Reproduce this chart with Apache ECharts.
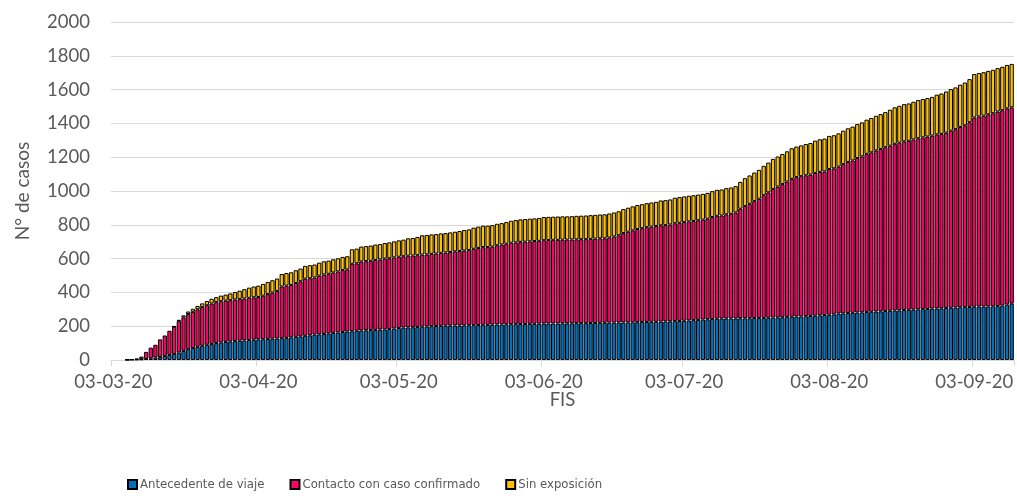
<!DOCTYPE html>
<html><head><meta charset="utf-8">
<script src="https://cdn.jsdelivr.net/npm/echarts@6/dist/echarts.min.js"></script>
<style>html,body{margin:0;padding:0;background:#fff}#c{width:1017px;height:502px}</style>
</head><body><div id="c"></div>
<script>
// Categories: daily dates (DD-MM-YY) from 03-03-20, 193 days
const firstDay = [2020, 2, 3]; // year, month index, day
const dayCount = 193;
const seriesNames = ['Antecedente de viaje', 'Contacto con caso confirmado', 'Sin exposición'];
const seriesColors = ['#0070C0', '#FF0066', '#FFC000'];
const yMin = 0, yMax = 2000, yStep = 200;

const viaje = [
  0,0,0,1,2,3,4,6,10,14,
  18,24,30,36,44,54,64,71,78,84,
  90,95,100,104,107,110,112,114,116,118,
  120,122,123,125,126,127,129,131,134,137,
  140,143,146,150,152,154,157,160,163,166,
  168,170,173,174,176,177,178,180,181,183,
  186,189,192,193,194,196,197,198,200,201,
  202,203,203,204,204,205,206,206,207,208,
  208,209,210,210,211,212,212,213,213,214,
  214,215,215,216,216,216,217,217,217,218,
  218,218,219,219,220,220,221,221,222,222,
  223,223,224,225,225,226,226,227,228,229,
  230,231,232,234,236,237,239,241,243,244,
  245,246,246,246,247,247,247,248,248,249,
  250,251,252,253,255,256,257,258,259,261,
  262,264,266,268,270,275,276,278,279,281,
  282,284,285,287,288,290,291,293,294,296,
  297,298,300,301,302,304,305,306,308,309,
  310,312,313,314,315,316,316,317,318,319,
  322,328,333
];
const contacto = [
  0,0,0,1,2,5,16,42,63,76,
  104,121,143,161,186,198,208,214,222,229,
  234,239,242,244,244,244,246,246,248,250,
  251,251,257,265,273,281,306,309,310,319,
  326,338,338,338,347,352,353,358,361,366,
  368,399,399,409,409,410,414,415,419,419,
  421,422,422,424,424,424,427,427,428,429,
  432,433,436,439,441,443,445,452,456,460,
  460,462,469,473,477,482,484,486,487,488,
  490,490,494,494,495,495,495,495,496,496,
  497,497,498,499,500,500,504,510,516,529,
  536,544,551,555,561,563,567,570,570,573,
  579,581,584,586,587,590,592,595,603,609,
  610,616,619,627,648,664,677,692,706,726,
  742,761,774,788,801,816,825,830,834,836,
  845,849,850,862,864,869,883,894,902,914,
  923,936,944,953,961,969,977,986,992,998,
  1000,1007,1012,1016,1020,1024,1030,1032,1037,1048,
  1056,1067,1076,1093,1120,1125,1130,1137,1142,1151,
  1156,1161,1162
];
const sinExposicion = [
  0,0,0,0,0,0,0,0,0,0,
  0,0,0,3,8,12,15,18,20,22,
  25,28,30,33,36,40,44,50,55,60,
  64,67,70,72,73,74,74,75,75,75,
  75,76,77,77,77,78,78,78,78,78,
  78,86,87,88,89,90,91,91,92,94,
  95,97,98,103,104,108,114,115,115,115,
  115,115,116,116,118,121,122,125,126,127,
  127,127,127,127,128,130,132,133,134,134,
  134,135,137,137,137,138,138,138,138,139,
  139,140,140,141,141,142,142,142,142,142,
  142,142,142,142,142,143,143,147,148,148,
  151,152,152,152,152,152,152,153,153,154,
  154,155,156,156,159,165,168,169,171,174,
  176,178,178,178,179,181,181,182,185,187,
  191,193,194,196,196,197,198,199,200,201,
  201,202,203,205,206,208,213,216,218,220,
  221,223,226,227,228,229,235,239,244,246,
  247,250,253,255,257,257,257,257,257,257,
  257,257,257
];

function pad(n){ return (n < 10 ? '0' : '') + n; }
const dates = [];
for (let i = 0; i < dayCount; i++) {
  const d = new Date(Date.UTC(firstDay[0], firstDay[1], firstDay[2] + i));
  dates.push(pad(d.getUTCDate()) + '-' + pad(d.getUTCMonth() + 1) + '-' + String(d.getUTCFullYear()).slice(2));
}
const showMonthly = (idx, val) => val.slice(0, 2) === '03';

const FONT = 'Lato';
const LEGEND_FONT = '"DejaVu Sans Condensed", Lato';
const TXT = '#595959';
const chart = echarts.init(document.getElementById('c'), null, {renderer: 'canvas'});
const dataSets = [viaje, contacto, sinExposicion];
chart.setOption({
  animation: false,
  textStyle: {fontFamily: FONT},
  grid: {left: 111, right: 3, top: 22, bottom: 142},
  legend: {
    left: 127, top: 478, padding: 0, itemWidth: 9, itemHeight: 9, itemGap: 25, icon: 'rect',
    textStyle: {color: TXT, fontSize: 13, fontFamily: LEGEND_FONT, padding: [0, 0, 0, -2]},
    data: seriesNames
  },
  xAxis: {
    type: 'category', data: dates, boundaryGap: true,
    name: 'FIS', nameLocation: 'middle', nameGap: 31, nameMoveOverlap: false,
    nameTextStyle: {color: TXT, fontSize: 18.5, fontFamily: FONT},
    axisLine: {lineStyle: {color: '#d9d9d9', width: 1}},
    axisTick: {show: true, interval: showMonthly, length: 6, lineStyle: {color: '#d9d9d9'}},
    axisLabel: {interval: showMonthly, color: TXT, fontSize: 18.5, fontFamily: FONT, margin: 13}
  },
  yAxis: {
    type: 'value', min: yMin, max: yMax, interval: yStep,
    name: 'N° de casos', nameLocation: 'middle', nameGap: 79, nameMoveOverlap: false,
    nameTextStyle: {color: TXT, fontSize: 19, fontFamily: FONT},
    axisLine: {show: false}, axisTick: {show: false},
    axisLabel: {color: TXT, fontSize: 18.5, fontFamily: FONT, margin: 21, formatter: v => String(v)},
    splitLine: {lineStyle: {color: '#d9d9d9', width: 1}}
  },
  series: seriesNames.map((n, i) => ({
    name: n, type: 'bar', stack: 'total',
    data: dataSets[i].map(v => (v === 0 ? '-' : v)),
    barCategoryGap: '8%',
    itemStyle: {color: seriesColors[i], borderColor: '#000', borderWidth: 1}
  }))
});
</script></body></html>
